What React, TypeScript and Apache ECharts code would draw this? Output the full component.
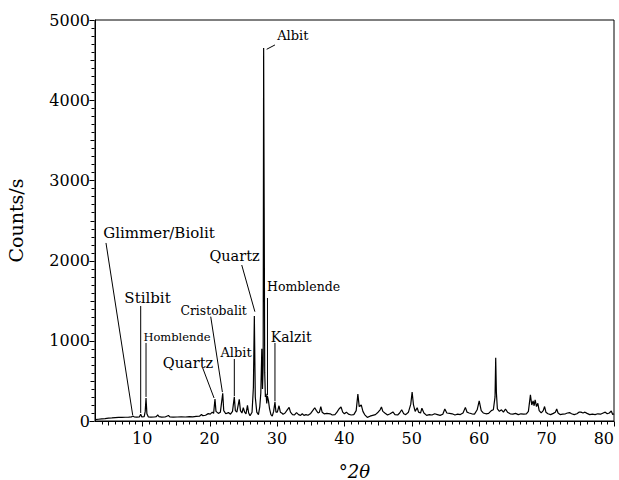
import React, { useEffect, useRef } from "react";
import * as echarts from "echarts";

// Measured XRD pattern: [°2θ, counts/s]
const xrdPoints: [number, number][] = [
  [3.0, 18], [3.5, 22], [4.0, 26], [4.5, 30], [5.0, 35], [5.5, 38], [6.0, 42], [6.5, 46], [7.0, 44], [7.5, 47],
  [8.0, 48], [8.4, 50], [8.6, 62], [8.8, 52], [9.2, 48], [9.6, 52], [9.78, 85], [9.95, 50], [10.3, 55], [10.45, 120],
  [10.57, 285], [10.7, 90], [10.9, 52], [11.3, 48], [11.8, 50], [12.1, 55], [12.3, 75], [12.5, 55], [12.9, 48], [13.4, 50],
  [13.9, 68], [14.1, 52], [14.6, 48], [15.2, 50], [15.8, 53], [16.4, 50], [17.0, 55], [17.5, 52], [18.0, 58], [18.5, 60],
  [18.8, 80], [19.0, 66], [19.4, 72], [19.8, 92], [20.1, 85], [20.4, 110], [20.6, 95], [20.8, 275], [20.95, 120], [21.3, 95],
  [21.6, 110], [21.95, 345], [22.1, 130], [22.4, 90], [22.8, 105], [23.1, 85], [23.4, 120], [23.67, 300], [23.82, 130], [24.05, 110],
  [24.4, 270], [24.58, 130], [24.8, 100], [25.0, 165], [25.2, 110], [25.4, 90], [25.62, 195], [25.8, 100], [26.0, 65], [26.3, 110],
  [26.5, 420], [26.64, 1310], [26.78, 300], [27.0, 110], [27.25, 80], [27.45, 180], [27.6, 350], [27.75, 900], [27.85, 400], [27.95, 700],
  [28.02, 4650], [28.1, 2650], [28.18, 600], [28.28, 300], [28.38, 340], [28.48, 220], [28.58, 310], [28.72, 260], [28.9, 150], [29.1, 80],
  [29.3, 60], [29.5, 120], [29.7, 235], [29.85, 110], [30.05, 110], [30.3, 190], [30.5, 110], [30.7, 100], [30.9, 85], [31.2, 100],
  [31.5, 135], [31.8, 170], [32.0, 110], [32.3, 80], [32.6, 75], [32.9, 105], [33.2, 80], [33.5, 70], [33.75, 90], [34.0, 70],
  [34.3, 80], [34.6, 72], [35.0, 95], [35.3, 130], [35.6, 165], [35.85, 130], [36.1, 100], [36.3, 110], [36.5, 180], [36.7, 110],
  [37.0, 90], [37.4, 95], [37.9, 90], [38.2, 75], [38.6, 80], [38.9, 110], [39.2, 150], [39.5, 175], [39.75, 110], [40.0, 90],
  [40.3, 110], [40.6, 85], [41.0, 75], [41.4, 80], [41.75, 130], [42.0, 335], [42.2, 180], [42.5, 200], [42.75, 120], [43.0, 80],
  [43.4, 45], [43.8, 60], [44.2, 70], [44.6, 80], [45.0, 110], [45.3, 140], [45.5, 175], [45.7, 120], [46.0, 100], [46.4, 75],
  [46.8, 90], [47.2, 113], [47.5, 80], [47.9, 75], [48.2, 100], [48.5, 140], [48.8, 90], [49.1, 80], [49.5, 110], [49.85, 210],
  [50.05, 360], [50.25, 200], [50.5, 120], [50.8, 165], [51.0, 110], [51.3, 100], [51.5, 160], [51.8, 100], [52.2, 70], [52.6, 80],
  [53.0, 75], [53.4, 90], [53.8, 80], [54.2, 70], [54.6, 85], [54.9, 150], [55.2, 100], [55.6, 95], [56.0, 90], [56.4, 75],
  [56.8, 85], [57.2, 80], [57.6, 100], [57.95, 170], [58.2, 110], [58.5, 100], [58.9, 90], [59.3, 85], [59.7, 140], [60.0, 250],
  [60.3, 130], [60.6, 100], [61.0, 90], [61.4, 95], [61.8, 130], [62.1, 140], [62.35, 300], [62.45, 790], [62.55, 355], [62.7, 150],
  [63.0, 120], [63.3, 140], [63.6, 110], [63.9, 150], [64.2, 110], [64.6, 90], [65.0, 85], [65.4, 95], [65.8, 80], [66.2, 90],
  [66.6, 85], [67.0, 90], [67.3, 120], [67.6, 325], [67.8, 200], [68.0, 250], [68.15, 190], [68.3, 265], [68.5, 180], [68.7, 220],
  [68.9, 130], [69.2, 100], [69.5, 130], [69.7, 180], [69.9, 110], [70.2, 90], [70.6, 80], [71.0, 95], [71.3, 110], [71.5, 150],
  [71.7, 100], [72.0, 80], [72.4, 85], [72.8, 90], [73.1, 100], [73.4, 105], [73.7, 90], [74.1, 80], [74.5, 90], [74.8, 110],
  [75.1, 110], [75.4, 100], [75.7, 110], [76.0, 95], [76.4, 80], [76.8, 85], [77.2, 80], [77.6, 90], [78.0, 85], [78.4, 100],
  [78.7, 110], [79.0, 90], [79.3, 100], [79.6, 125], [79.8, 80], [80.0, 90],
];

const xMajorTicks = [10, 20, 30, 40, 50, 60, 70, 80];

const annotationText = [
  "Glimmer/Biolit", "Stilbit", "Homblende", "Quartz", "Cristobalit",
  "Albit", "Quartz", "Homblende", "Kalzit", "Albit",
];

// layout of annotation labels (in data coordinates)
const annotationLayout = [
  { tx: 12.5, ty: 2344, fs: 15, line: [[4.63, 2220], [8.59, 75]] },
  { tx: 10.79, ty: 1534, fs: 15, line: [[9.78, 1434], [9.78, 100]] },
  { tx: 15.17, ty: 1051, fs: 11.5, line: [[10.57, 973], [10.57, 300]] },
  { tx: 16.8, ty: 723, fs: 14.5, line: [[18.98, 661], [20.66, 287]] },
  { tx: 20.6, ty: 1384, fs: 12.4, line: [[20.17, 1301], [21.9, 360]] },
  { tx: 23.92, ty: 848, fs: 13, line: [[23.67, 773], [23.67, 310]] },
  { tx: 23.7, ty: 2058, fs: 14.5, line: [[24.77, 1945], [26.72, 1363]] },
  { tx: 33.95, ty: 1671, fs: 12.5, line: [[28.59, 1534], [28.59, 320]] },
  { tx: 32.1, ty: 1051, fs: 14, line: [[29.7, 973], [29.7, 245]] },
  { tx: 32.35, ty: 4805, fs: 13, line: [[28.47, 4635], [29.7, 4689]] },
];

const FONT = "DejaVu Serif";

export default function App() {
  const ref = useRef<HTMLDivElement>(null);

  useEffect(() => {
    document.body.style.margin = "0";
    if (!ref.current) return;
    const chart = echarts.init(ref.current, undefined, { renderer: "svg" });

    chart.setOption({
      animation: false,
      textStyle: { fontFamily: FONT },
      grid: {
        left: 95,
        right: 5,
        top: 20,
        bottom: 59,
        outerBoundsMode: "none",
        containLabel: false,
        show: true,
        borderColor: "#000",
        borderWidth: 1,
        backgroundColor: "transparent",
      },
      xAxis: {
        type: "value",
        position: "bottom",
        min: 3,
        max: 80,
        name: "{a|°}{b|2θ}",
        nameLocation: "middle",
        nameGap: 41,
        nameTextStyle: {
          rich: {
            a: { fontFamily: FONT, fontSize: 18, color: "#000" },
            b: { fontFamily: FONT, fontSize: 18, fontStyle: "italic", color: "#000" },
          },
        },
        axisLine: { show: true, lineStyle: { color: "#000", width: 1 } },
        splitLine: { show: false },
        axisTick: { show: false },
        axisLabel: {
          customValues: xMajorTicks,
          color: "#000",
          fontFamily: FONT,
          fontSize: 16,
          margin: 9,
          alignMaxLabel: "right",
        },
      },
      yAxis: {
        type: "value",
        position: "left",
        min: 0,
        max: 5000,
        interval: 1000,
        name: "Counts/s",
        nameLocation: "middle",
        nameGap: 70,
        nameTextStyle: { fontFamily: FONT, fontSize: 19, color: "#000" },
        axisLine: { show: true, lineStyle: { color: "#000", width: 1 } },
        splitLine: { show: false },
        axisTick: { show: false },
        axisLabel: {
          color: "#000",
          fontFamily: FONT,
          fontSize: 16,
          margin: 5,
          formatter: (v: number) => String(v),
        },
      },
      series: [
        {
          type: "line",
          data: xrdPoints,
          symbol: "none",
          showSymbol: false,
          lineStyle: { color: "#000", width: 1.2 },
          z: 5,
        },
      ],
    });

    const toPx = (p: number[]) => chart.convertToPixel({ seriesIndex: 0 }, p) as number[];
    const graphics: any[] = [];

    // axis ticks (outward): x every 1°, longer at 5° and 10°; y every 100, longer at 500 and 1000
    const origin = toPx([3, 0]);
    const axisY = Math.round(origin[1]) + 0.5;
    const axisX = Math.round(origin[0]) - 0.5;
    for (let v = 4; v <= 80; v++) {
      const len = v % 10 === 0 ? 5 : v % 5 === 0 ? 4 : 3;
      const px = Math.round(toPx([v, 0])[0]) + 0.5;
      graphics.push({
        type: "line",
        silent: true,
        shape: { x1: px, y1: axisY, x2: px, y2: axisY + len },
        style: { stroke: "#000", lineWidth: 1 },
      });
    }
    for (let v = 0; v <= 5000; v += 100) {
      const len = v % 1000 === 0 ? 5 : v % 500 === 0 ? 4 : 3;
      const py = Math.round(toPx([3, v])[1]) + 0.5;
      graphics.push({
        type: "line",
        silent: true,
        shape: { x1: axisX - len, y1: py, x2: axisX, y2: py },
        style: { stroke: "#000", lineWidth: 1 },
      });
    }

    annotationLayout.forEach((a, i) => {
      const c = toPx([a.tx, a.ty]);
      const p1 = toPx(a.line[0]);
      const p2 = toPx(a.line[1]);
      graphics.push({
        type: "line",
        shape: { x1: p1[0], y1: p1[1], x2: p2[0], y2: p2[1] },
        style: { stroke: "#000", lineWidth: 1 },
        z: 10,
      });
      graphics.push({
        type: "text",
        x: c[0],
        y: c[1],
        style: {
          text: annotationText[i],
          fill: "#000",
          font: `${a.fs}px "${FONT}"`,
          align: "center",
          verticalAlign: "middle",
        },
        z: 10,
      });
    });
    chart.setOption({ graphic: graphics });

    return () => chart.dispose();
  }, []);

  return <div ref={ref} style={{ width: 619, height: 480 }} />;
}
